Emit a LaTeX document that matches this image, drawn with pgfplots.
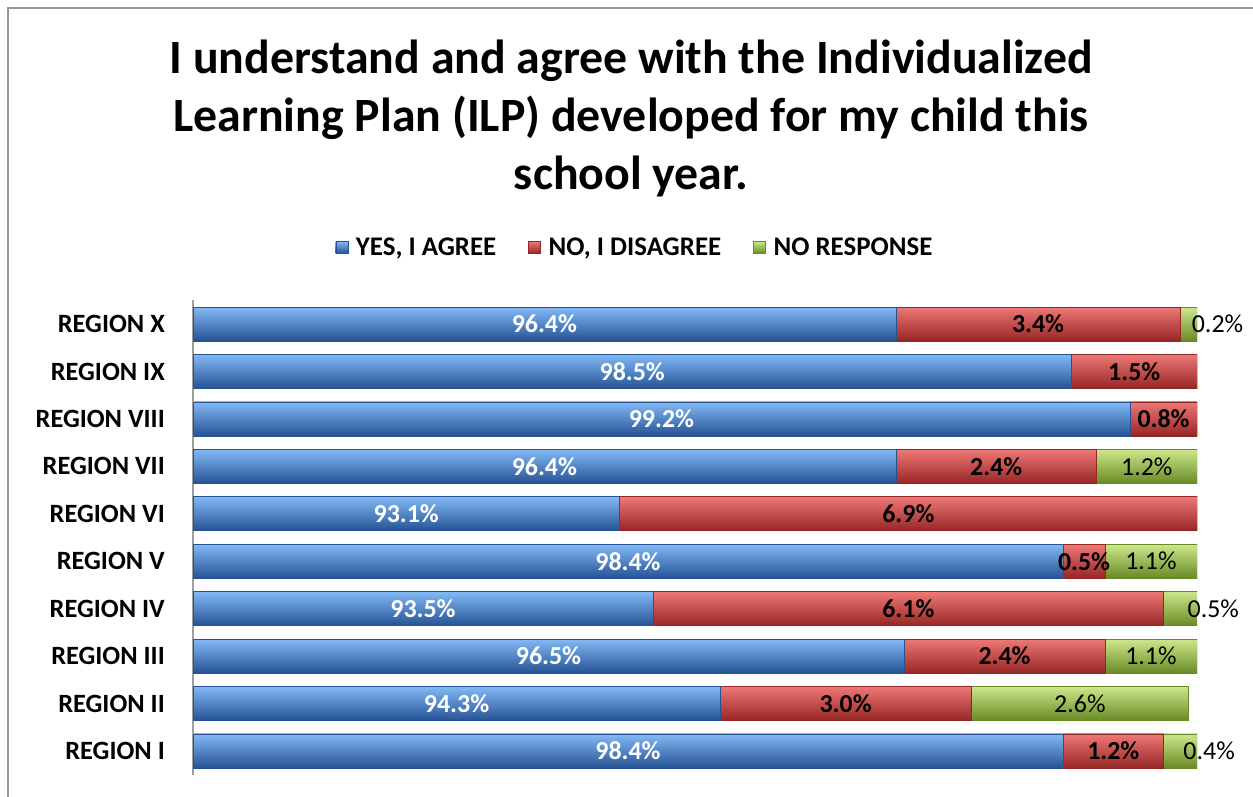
\documentclass[border=0pt]{standalone}
\usepackage{fontspec}
\setmainfont{Carlito}
\usepackage{pgfplots}
\usepackage{pgfplotstable}
\pgfplotsset{compat=1.18}
\definecolor{blueT}{RGB}{130,185,245}
\definecolor{blueM}{RGB}{58,122,202}
\definecolor{blueB}{RGB}{38,82,148}
\definecolor{redT}{RGB}{238,120,118}
\definecolor{redM}{RGB}{212,66,64}
\definecolor{redB}{RGB}{150,38,36}
\definecolor{greenT}{RGB}{205,232,140}
\definecolor{greenM}{RGB}{156,196,62}
\definecolor{greenB}{RGB}{104,138,36}

% y: 0 = Region I ... 9 = Region X; b = yes, r = no, g = no response
\pgfplotstableread{
y b r g
0 98.4 1.2 0.4
1 94.3 3.0 2.6
2 96.5 2.4 1.1
3 93.5 6.1 0.5
4 98.4 0.5 1.1
5 93.1 6.9 0.0
6 96.4 2.4 1.2
7 99.2 0.8 0.0
8 98.5 1.5 0.0
9 96.4 3.4 0.2
}\data

\newcommand{\pct}{\pgfmathprintnumber[fixed,fixed zerofill,precision=1,assume math mode=true]{\pgfplotspointmeta}\%}
\pgfplotsset{
  bluebar/.style={forget plot, xbar, bar width=34bp, top color=blueT, middle color=blueM, bottom color=blueB, draw=blueB, line width=0.6bp},
  redbar/.style={forget plot, xbar, bar width=34bp, top color=redT, middle color=redM, bottom color=redB, draw=redB, line width=0.6bp},
  greenbar/.style={forget plot, xbar, bar width=34bp, top color=greenT, middle color=greenM, bottom color=greenB, draw=greenB, line width=0.6bp},
  lab/.style={forget plot, only marks, mark=none, point meta=explicit, nodes near coords=\pct},
}

\begin{document}
\begin{tikzpicture}
\useasboundingbox (0,0) rectangle (1253bp,797bp);
\draw[gray!80, line width=1.5bp] (8bp,0bp) -- (8bp,789bp) -- (1253bp,789bp);
\node[anchor=base, inner sep=0pt, font=\fontsize{48}{58}\selectfont\bfseries] at (631bp,723bp) {I understand and agree with the Individualized};
\node[anchor=base, inner sep=0pt, font=\fontsize{48}{58}\selectfont\bfseries] at (631bp,665bp) {Learning Plan (ILP) developed for my child this};
\node[anchor=base, inner sep=0pt, font=\fontsize{48}{58}\selectfont\bfseries] at (631bp,607bp) {school year.};
\begin{axis}[
  at={(193bp,22.3bp)}, anchor=south west, scale only axis,
  width=1004bp, height=474.4bp,
  xmin=88, xmax=100, ymin=-0.5, ymax=9.5,
  axis x line=none, axis y line*=left,
  axis line style={draw=gray!75, line width=1.2bp},
  ytick={0,...,9},
  yticklabels={REGION I,REGION II,REGION III,REGION IV,REGION V,REGION VI,REGION VII,REGION VIII,REGION IX,REGION X},
  major tick length=0pt,
  yticklabel style={font=\fontsize{26.5}{31}\selectfont\bfseries, inner sep=0pt, xshift=-28bp},
  clip mode=individual,
  legend style={at={(0.4402,1.1116)}, anchor=center, draw=none, fill=none,
    legend columns=3, font=\fontsize{27}{32}\selectfont\bfseries,
    /tikz/every odd column/.append style={column sep=6bp},
    /tikz/every even column/.append style={column sep=30bp}},
  legend cell align=left,
]
\addlegendimage{legend image code/.code={\draw[top color=blueT,middle color=blueM,bottom color=blueB,draw=blueB] (0bp,-6bp) rectangle (12bp,6bp);}}
\addlegendentry{YES, I AGREE}
\addlegendimage{legend image code/.code={\draw[top color=redT,middle color=redM,bottom color=redB,draw=redB] (0bp,-6bp) rectangle (12bp,6bp);}}
\addlegendentry{NO, I DISAGREE}
\addlegendimage{legend image code/.code={\draw[top color=greenT,middle color=greenM,bottom color=greenB,draw=greenB] (0bp,-6bp) rectangle (12bp,6bp);}}
\addlegendentry{NO RESPONSE}

% bars, drawn back to front as cumulative totals, one row at a time so each bar has its own shading
\pgfplotsinvokeforeach{0,...,9}{
  \addplot[greenbar, restrict expr to domain={\thisrow{y}}{#1:#1}]
    table[x expr=\thisrow{b}+\thisrow{r}+\thisrow{g}, y=y] {\data};
  \addplot[redbar, restrict expr to domain={\thisrow{y}}{#1:#1}]
    table[x expr=\thisrow{b}+\thisrow{r}, y=y] {\data};
  \addplot[bluebar, restrict expr to domain={\thisrow{y}}{#1:#1}]
    table[x=b, y=y] {\data};
}

% labels
\addplot[lab, nodes near coords align=center,
  every node near coord/.append style={font=\fontsize{26}{31}\selectfont\bfseries, text=white}]
  table[x expr=(88+\thisrow{b})/2, y=y, meta=b] {\data};
\addplot[lab, nodes near coords align=center,
  every node near coord/.append style={font=\fontsize{26}{31}\selectfont\bfseries, text=black}]
  table[x expr=\thisrow{b}+\thisrow{r}/2, y=y, meta=r] {\data};
\addplot[lab, restrict expr to domain={\thisrow{g}}{1:100}, nodes near coords align=center,
  every node near coord/.append style={font=\fontsize{26}{31}\selectfont, text=black}]
  table[x expr=\thisrow{b}+\thisrow{r}+\thisrow{g}/2, y=y, meta=g] {\data};
\addplot[lab, restrict expr to domain={\thisrow{g}}{0.1:0.9}, nodes near coords align=west,
  every node near coord/.append style={font=\fontsize{26}{31}\selectfont, text=black, inner sep=0pt, xshift=3bp}]
  table[x expr=\thisrow{b}+\thisrow{r}+\thisrow{g}/2, y=y, meta=g] {\data};
\end{axis}
\end{tikzpicture}
\end{document}
